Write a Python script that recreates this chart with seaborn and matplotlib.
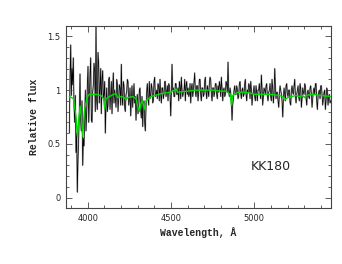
import numpy as np
import pandas as pd
import seaborn as sns
import matplotlib.pyplot as plt
from matplotlib.ticker import MultipleLocator

# observed spectrum, 4 A sampling from 3890 A (one row = 80 A)
wave_start, wave_step = 3890, 4
flux = [
    0.60, 1.10, 1.42, 0.95, 1.20, 1.05, 1.30, 0.85, 0.70, 0.95, 0.42, 0.60, 0.05, 0.35, 0.55, 0.80, 1.15, 0.72, 0.62, 0.90,
    0.30, 0.55, 0.48, 0.75, 1.00, 0.62, 0.78, 1.05, 1.22, 0.70, 0.90, 1.15, 1.30, 0.72, 0.70, 0.98, 1.05, 1.25, 1.18, 0.80,
    1.60, 0.90, 0.82, 1.35, 1.25, 0.88, 1.02, 1.20, 0.78, 1.10, 1.18, 0.92, 0.96, 1.08, 0.60, 0.85, 1.02, 0.80, 0.86, 1.10,
    1.12, 0.82, 0.94, 1.08, 0.78, 1.00, 1.16, 0.88, 1.00, 0.92, 0.84, 1.10, 1.06, 0.80, 0.92, 1.05, 1.02, 0.86, 1.24, 0.94,
    0.86, 1.08, 1.04, 0.84, 0.80, 0.96, 0.98, 1.10, 1.08, 0.86, 0.90, 1.02, 0.76, 0.92, 1.04, 0.84, 0.96, 1.06, 0.88, 0.94,
    0.72, 0.90, 0.96, 0.78, 0.84, 1.00, 1.02, 0.82, 0.74, 0.94, 0.66, 0.88, 0.90, 0.70, 0.62, 0.84, 0.98, 1.06, 0.92, 0.86,
    1.08, 0.92, 0.94, 1.06, 1.02, 0.88, 0.90, 1.08, 1.12, 0.94, 0.96, 1.00, 0.92, 1.06, 1.04, 0.90, 1.10, 0.96, 0.88, 1.02,
    1.02, 0.92, 0.96, 1.08, 1.08, 0.94, 0.98, 1.04, 0.90, 1.06, 1.04, 0.96, 0.76, 0.98, 1.24, 1.00, 1.02, 0.94, 0.94, 1.06,
    1.06, 0.96, 0.96, 1.02, 0.90, 1.08, 1.04, 0.92, 1.12, 1.00, 0.94, 0.98, 1.00, 1.10, 0.90, 1.04, 1.08, 0.96, 1.02, 0.94,
    0.96, 1.06, 0.88, 1.02, 1.06, 0.94, 1.00, 1.08, 1.16, 0.98, 0.94, 1.04, 1.04, 0.90, 0.98, 1.10, 1.10, 0.96, 0.90, 1.02,
    1.02, 0.94, 0.96, 1.08, 1.12, 0.98, 0.92, 1.04, 1.00, 0.94, 1.06, 1.12, 1.10, 0.96, 0.90, 1.02, 1.02, 0.94, 0.98, 1.06,
    1.06, 0.96, 0.92, 1.04, 0.98, 1.08, 1.04, 0.94, 1.12, 1.02, 0.90, 1.00, 1.02, 0.94, 0.96, 1.08, 1.06, 0.98, 1.26, 1.00,
    0.94, 1.02, 0.98, 0.90, 0.72, 0.86, 0.92, 1.00, 1.04, 0.96, 0.96, 1.04, 1.00, 0.92, 0.94, 1.06, 1.08, 0.98, 0.92, 1.00,
    1.02, 0.94, 0.96, 1.06, 1.10, 0.96, 0.90, 1.00, 0.98, 1.06, 1.04, 0.92, 1.08, 1.00, 0.86, 0.96, 0.98, 1.04, 0.94, 0.90,
    1.04, 0.98, 0.90, 1.00, 1.00, 1.06, 0.96, 0.92, 1.14, 1.02, 0.86, 0.94, 1.02, 1.00, 0.96, 1.04, 1.06, 0.94, 0.90, 0.98,
    1.00, 1.06, 0.94, 0.90, 1.10, 1.02, 0.88, 0.96, 1.20, 1.04, 0.92, 0.98, 0.98, 0.90, 0.84, 0.96, 1.04, 1.00, 0.96, 0.90,
    0.75, 0.92, 1.02, 0.96, 0.90, 1.04, 1.06, 0.96, 0.94, 1.00, 1.00, 0.88, 0.86, 1.00, 1.04, 0.98, 0.96, 1.04, 1.10, 0.94,
    0.88, 0.96, 1.00, 1.04, 0.94, 0.90, 1.06, 1.02, 0.84, 0.92, 1.02, 0.98, 0.96, 1.06, 1.04, 0.92, 0.86, 0.98, 1.00, 0.94,
    0.92, 1.02, 1.04, 0.96, 0.84, 0.92, 1.00, 1.02, 0.96, 1.06, 1.06, 0.90, 0.82, 0.94, 0.98, 1.00, 0.92, 1.04, 1.04, 0.96,
    0.86, 0.92, 0.98, 1.00, 0.82, 0.90, 1.02, 1.00, 0.86, 0.94, 0.96, 0.88, 0.90,
]
wave = wave_start + wave_step * np.arange(len(flux))

# model spectrum
model_wave = [3890, 3915, 3930, 3938, 3948, 3955, 3962, 3970, 3980, 3995,
              4010, 4050, 4080, 4095, 4102, 4110, 4130, 4170, 4180, 4200,
              4220, 4230, 4240, 4270, 4290, 4300, 4310, 4320, 4330, 4340,
              4350, 4380, 4400, 4450, 4500, 4520, 4530, 4540, 4600, 4650,
              4700, 4750, 4800, 4830, 4855, 4862, 4870, 4900, 4950, 4980,
              5000, 5050, 5100, 5150, 5170, 5180, 5200, 5250, 5270, 5290,
              5300, 5310, 5350, 5400, 5460]
model_flux = [0.94, 0.92, 0.75, 0.57, 0.75, 0.85, 0.75, 0.57, 0.80, 0.93,
              0.96, 0.96, 0.95, 0.92, 0.83, 0.92, 0.94, 0.97, 0.93, 0.94,
              0.93, 0.91, 0.93, 0.94, 0.92, 0.85, 0.80, 0.88, 0.90, 0.82,
              0.90, 0.94, 0.95, 0.97, 0.98, 1.00, 1.01, 0.98, 0.99, 1.00,
              1.00, 1.00, 0.99, 0.99, 0.96, 0.86, 0.95, 0.98, 0.98, 0.97,
              0.96, 0.96, 0.96, 0.95, 0.94, 0.91, 0.93, 0.95, 0.94, 0.95,
              0.93, 0.95, 0.96, 0.95, 0.94]

obs = pd.DataFrame({'wave': wave, 'flux': flux})
mod = pd.DataFrame({'wave': model_wave, 'flux': model_flux})

sns.set_style('ticks')
fig = plt.figure(figsize=(3.42, 2.64), dpi=100)
ax = fig.add_axes([0.193, 0.211, 0.775, 0.692])

sns.lineplot(data=obs, x='wave', y='flux', color='#b4b4b4', lw=1.1, ax=ax, estimator=None)
sns.lineplot(data=obs, x='wave', y='flux', color='black', lw=0.5, ax=ax, estimator=None)
sns.lineplot(data=mod, x='wave', y='flux', color='#00dd00', lw=1.0, ax=ax, estimator=None)

ax.set_xlim(3870, 5460)
ax.set_ylim(-0.1, 1.6)
ax.xaxis.set_major_locator(MultipleLocator(500))
ax.xaxis.set_minor_locator(MultipleLocator(100))
ax.yaxis.set_minor_locator(MultipleLocator(0.1))
ax.set_yticks([0, 0.5, 1, 1.5])
ax.set_yticklabels(['0', '0.5', '1', '1.5'])
ax.tick_params(which='both', direction='in', top=True, right=True,
               labelsize=6, color='#444444', width=0.6, pad=4)
ax.tick_params(which='major', length=4)
ax.tick_params(which='minor', length=2)
for s in ax.spines.values():
    s.set_linewidth(0.8)
    s.set_color('#444444')

ax.set_xlabel('Wavelength, Å', family='Liberation Mono', fontsize=7, weight='bold', labelpad=3)
ax.set_ylabel('Relative flux', family='Liberation Mono', fontsize=7, weight='bold', labelpad=6)
ax.text(4978, 0.29, 'KK180', fontsize=9, va='center', ha='left')

fig.savefig('out.png', dpi=100)
